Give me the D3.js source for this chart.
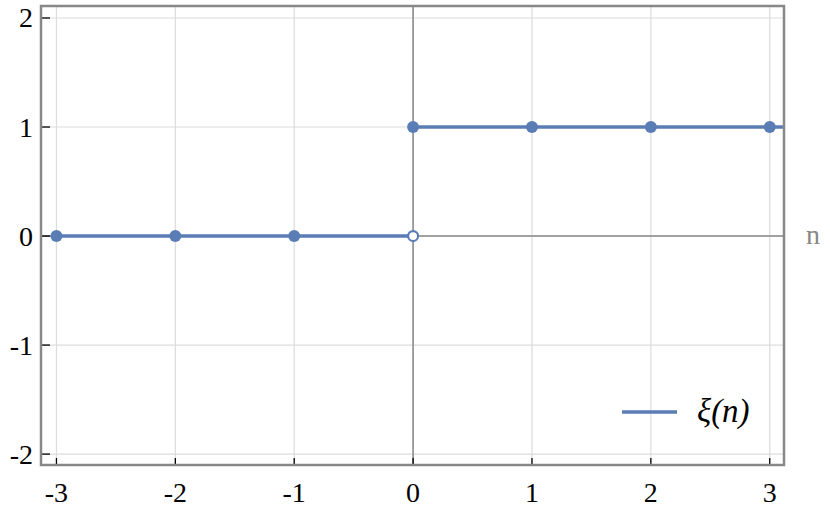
<!DOCTYPE html>
<html><head><meta charset="utf-8">
<script src="https://cdn.jsdelivr.net/npm/d3@7"></script>
<style>body{margin:0;background:#fff} text{font-family:"Liberation Serif","Times New Roman","DejaVu Serif",serif}</style>
</head><body>
<svg id="c" width="830" height="513"></svg>
<script>
const xTicks = [-3,-2,-1,0,1,2,3];
const yTicks = [-2,-1,0,1,2];
const seg1 = [{n:-3,v:0},{n:-2,v:0},{n:-1,v:0},{n:0,v:0}];
const seg2 = [{n:0,v:1},{n:1,v:1},{n:2,v:1},{n:3,v:1},{n:3.5,v:1}];
const filledPts = [{n:-3,v:0},{n:-2,v:0},{n:-1,v:0},{n:0,v:1},{n:1,v:1},{n:2,v:1},{n:3,v:1}];
const openPts = [{n:0,v:0}];
const legendLabel = "ξ(n)";

const L=41,R=784,T=6,B=465;
const x=d3.scaleLinear().domain([-3.13,3.12]).range([L,R]);
const y=d3.scaleLinear().domain([-2.1,2.11]).range([B,T]);
const svg=d3.select("#c");
const col="#5a7db5";

svg.append("defs").append("clipPath").attr("id","clip").append("rect")
 .attr("x",L).attr("y",T).attr("width",R-L).attr("height",B-T);

const g=svg.append("g");
g.selectAll(".gx").data(xTicks).join("line").attr("x1",d=>x(d)).attr("x2",d=>x(d))
 .attr("y1",T).attr("y2",B).attr("stroke","#dcdcdc").attr("stroke-width",1.2);
g.selectAll(".gy").data(yTicks).join("line").attr("y1",d=>y(d)).attr("y2",d=>y(d))
 .attr("x1",L).attr("x2",R).attr("stroke","#dcdcdc").attr("stroke-width",1.2);
g.append("line").attr("x1",x(0)).attr("x2",x(0)).attr("y1",T).attr("y2",B).attr("stroke","#888").attr("stroke-width",1.5);
g.append("line").attr("y1",y(0)).attr("y2",y(0)).attr("x1",L).attr("x2",R).attr("stroke","#888").attr("stroke-width",1.5);

g.selectAll(".tx").data(xTicks).join("line").attr("x1",d=>x(d)).attr("x2",d=>x(d))
 .attr("y1",B).attr("y2",B-7).attr("stroke","#000").attr("stroke-width",1.3);
g.selectAll(".ty").data(yTicks).join("line").attr("y1",d=>y(d)).attr("y2",d=>y(d))
 .attr("x1",L).attr("x2",L+9).attr("stroke","#000").attr("stroke-width",1.3);

const line=d3.line().x(d=>x(d.n)).y(d=>y(d.v));
const dg=svg.append("g").attr("clip-path","url(#clip)");
[seg1,seg2].forEach(s=>dg.append("path").attr("d",line(s)).attr("fill","none").attr("stroke",col).attr("stroke-width",3.5));
svg.selectAll(".fp").data(filledPts).join("circle").attr("cx",d=>x(d.n)).attr("cy",d=>y(d.v)).attr("r",6).attr("fill",col);
svg.selectAll(".op").data(openPts).join("circle").attr("cx",d=>x(d.n)).attr("cy",d=>y(d.v)).attr("r",5).attr("fill","#fff").attr("stroke",col).attr("stroke-width",2.2);

svg.append("rect").attr("x",L).attr("y",T).attr("width",R-L).attr("height",B-T)
 .attr("fill","none").attr("stroke","#888").attr("stroke-width",2.5);

svg.selectAll(".lx").data(xTicks).join("text").attr("x",d=>x(d)).attr("y",502)
 .attr("text-anchor","middle").attr("font-size",28).text(d=>d<0?"-"+Math.abs(d):d);
svg.selectAll(".ly").data(yTicks).join("text").attr("x",33).attr("y",d=>y(d)+9.5)
 .attr("text-anchor","end").attr("font-size",28).text(d=>d<0?"-"+Math.abs(d):d);
svg.append("text").attr("x",806).attr("y",y(0)+8).attr("font-size",28).attr("fill","#888").text("n");

svg.append("line").attr("x1",622).attr("x2",677).attr("y1",412).attr("y2",412).attr("stroke",col).attr("stroke-width",3.5);
svg.append("text").attr("x",697).attr("y",422).attr("font-style","italic").attr("font-size",33).text(legendLabel);
</script>
</body></html>
